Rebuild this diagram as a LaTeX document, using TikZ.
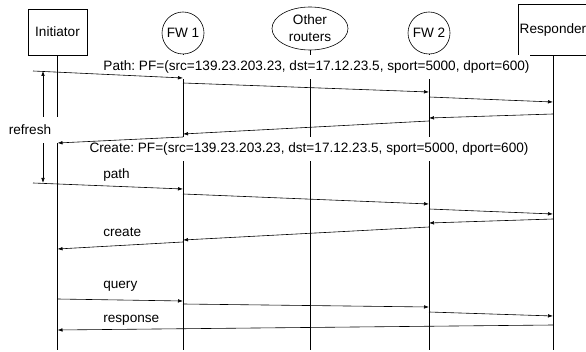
\documentclass[tikz,border=0pt]{standalone}
\usepackage{fontspec}
\setmainfont{Liberation Sans}
\usetikzlibrary{arrows.meta,shapes.geometric}
\frenchspacing

\begin{document}
\begin{tikzpicture}[x=1pt,y=-1pt,>={Latex[length=5pt,width=3.6pt]},line width=0.6pt,
    every node/.style={font=\fontsize{13.6}{17}\selectfont},
    lbl/.style={fill=white,inner sep=0pt,minimum height=24pt},
    msglbl/.style={anchor=west,inner sep=0pt}]
    \useasboundingbox (0,0) rectangle (586,352);
    \node[draw,minimum width=59pt,minimum height=46pt,inner sep=0pt] (ini) at (57.5,32) {Initiator};
    \node[draw,circle,minimum size=42pt,inner sep=0pt] (fw1) at (183,33) {FW 1};
    \node[draw,ellipse,minimum width=76pt,minimum height=43pt,inner sep=0pt,align=center] (rt) at (310,28.5) {Other\\routers};
    \node[draw,circle,minimum size=42pt,inner sep=0pt] (fw2) at (429,33) {FW 2};
    \node[draw,minimum width=70pt,minimum height=51pt,inner sep=0pt] (resp) at (553,29.5) {Responder};
    \foreach \p in {ini,fw1,rt,fw2,resp}
        \draw (\p.south) -- (\p |- 0,350);
    \coordinate (rtop) at (43,71);
    \coordinate (rbot) at (43,183);
    \draw[<->] (rtop) -- (rbot);
    \node[lbl] (pathpf) at (316.5,67) {Path: PF=(src=139.23.203.23, dst=17.12.23.5, sport=5000, dport=600)};
    \node[lbl] (createpf) at (309,149) {Create: PF=(src=139.23.203.23, dst=17.12.23.5, sport=5000, dport=600)};
    \node[lbl,minimum width=58pt,minimum height=26pt] (refresh) at (30,130) {refresh};
    % first exchange
    \coordinate (s1) at (33,71);
    \draw[->] (s1) -- (fw1 |- 0,78);
    \draw[->] (fw1 |- 0,83) -- (fw2 |- 0,92);
    \draw[->] (fw2 |- 0,97) -- (resp |- 0,102);
    \draw[->] (resp |- 0,114) -- (fw2 |- 0,118);
    \draw[->] (fw2 |- 0,121) -- (fw1 |- 0,134);
    \draw[->] (fw1 |- 0,137) -- (ini |- 0,143);
    % refresh exchange
    \coordinate (s2) at (33,183);
    \draw[->] (s2) -- (fw1 |- 0,189);
    \draw[->] (fw1 |- 0,194) -- (fw2 |- 0,204);
    \draw[->] (fw2 |- 0,209) -- (resp |- 0,214);
    \draw[->] (resp |- 0,219) -- (fw2 |- 0,223);
    \draw[->] (fw2 |- 0,227) -- (fw1 |- 0,240);
    \draw[->] (fw1 |- 0,242) -- (ini |- 0,249);
    % query
    \draw[->] (ini |- 0,299) -- (fw1 |- 0,301);
    \draw[->] (fw1 |- 0,304) -- (fw2 |- 0,307);
    \draw[->] (fw2 |- 0,312) -- (resp |- 0,316);
    \draw[->] (resp |- 0,325) -- (ini |- 0,330);
    \node[msglbl] (pathmsg) at (103,175) {path};
    \node[msglbl] (createmsg) at (103,232) {create};
    \node[msglbl] (querymsg) at (103,286) {query};
    \node[msglbl] (respmsg) at (103,320) {response};
\end{tikzpicture}
\end{document}
